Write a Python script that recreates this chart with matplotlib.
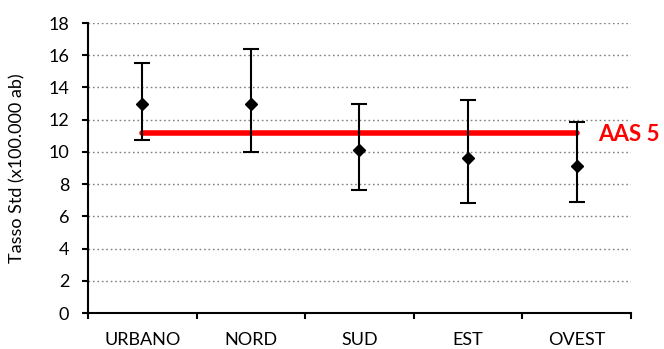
import matplotlib.pyplot as plt
import numpy as np

# Tassi standardizzati per area con intervalli di confidenza
aree = ['URBANO', 'NORD', 'SUD', 'EST', 'OVEST']
tasso = [13.0, 13.0, 10.1, 9.6, 9.1]
ic_inf = [10.75, 10.0, 7.65, 6.8, 6.9]
ic_sup = [15.5, 16.4, 12.95, 13.2, 11.85]
aas5 = 11.2

plt.rcParams['font.family'] = ['Lato', 'DejaVu Sans']

fig = plt.figure(figsize=(6.64, 3.49), dpi=100)
ax = fig.add_axes([0.1325, 0.103, 0.8175, 0.831])

x = np.arange(len(aree))
err = [np.array(tasso) - np.array(ic_inf), np.array(ic_sup) - np.array(tasso)]

# linea di riferimento AAS 5
ax.plot([x[0], x[-1]], [aas5, aas5], color='#ff0000', lw=4, solid_capstyle='round', zorder=2)
ax.text(x[-1] + 0.2, aas5 - 0.1, 'AAS 5', color='#ff0000', fontsize=16, fontweight='bold',
        va='center', ha='left', clip_on=False)

ax.errorbar(x, tasso, yerr=err, fmt='D', color='black', ms=6.5, ecolor='black',
            elinewidth=1.5, capsize=6, capthick=1.5, zorder=3)

ax.set_xlim(-0.5, len(aree) - 0.5)
ax.set_ylim(0, 18)
ax.set_yticks(range(0, 19, 2))
ax.set_xticks(x)
ax.set_xticklabels(aree, fontsize=13)
ax.set_xticks(np.arange(-0.5, len(aree)), minor=True)
ax.tick_params(axis='x', which='major', length=0, pad=14)
ax.tick_params(axis='x', which='minor', length=4, width=1.5, direction='out')
ax.tick_params(axis='y', length=4.5, width=1.5, labelsize=13, pad=9)
ax.yaxis.grid(True, linestyle=(0, (1.2, 2)), color='#808080', lw=1)
ax.set_axisbelow(True)

for s in ['top', 'right']:
    ax.spines[s].set_visible(False)
for s in ['left', 'bottom']:
    ax.spines[s].set_linewidth(1.5)

ax.set_ylabel('Tasso Std (x100.000 ab)', fontsize=13)
ax.yaxis.set_label_coords(-0.115, 0.5)

fig.savefig('out.png', dpi=100)
